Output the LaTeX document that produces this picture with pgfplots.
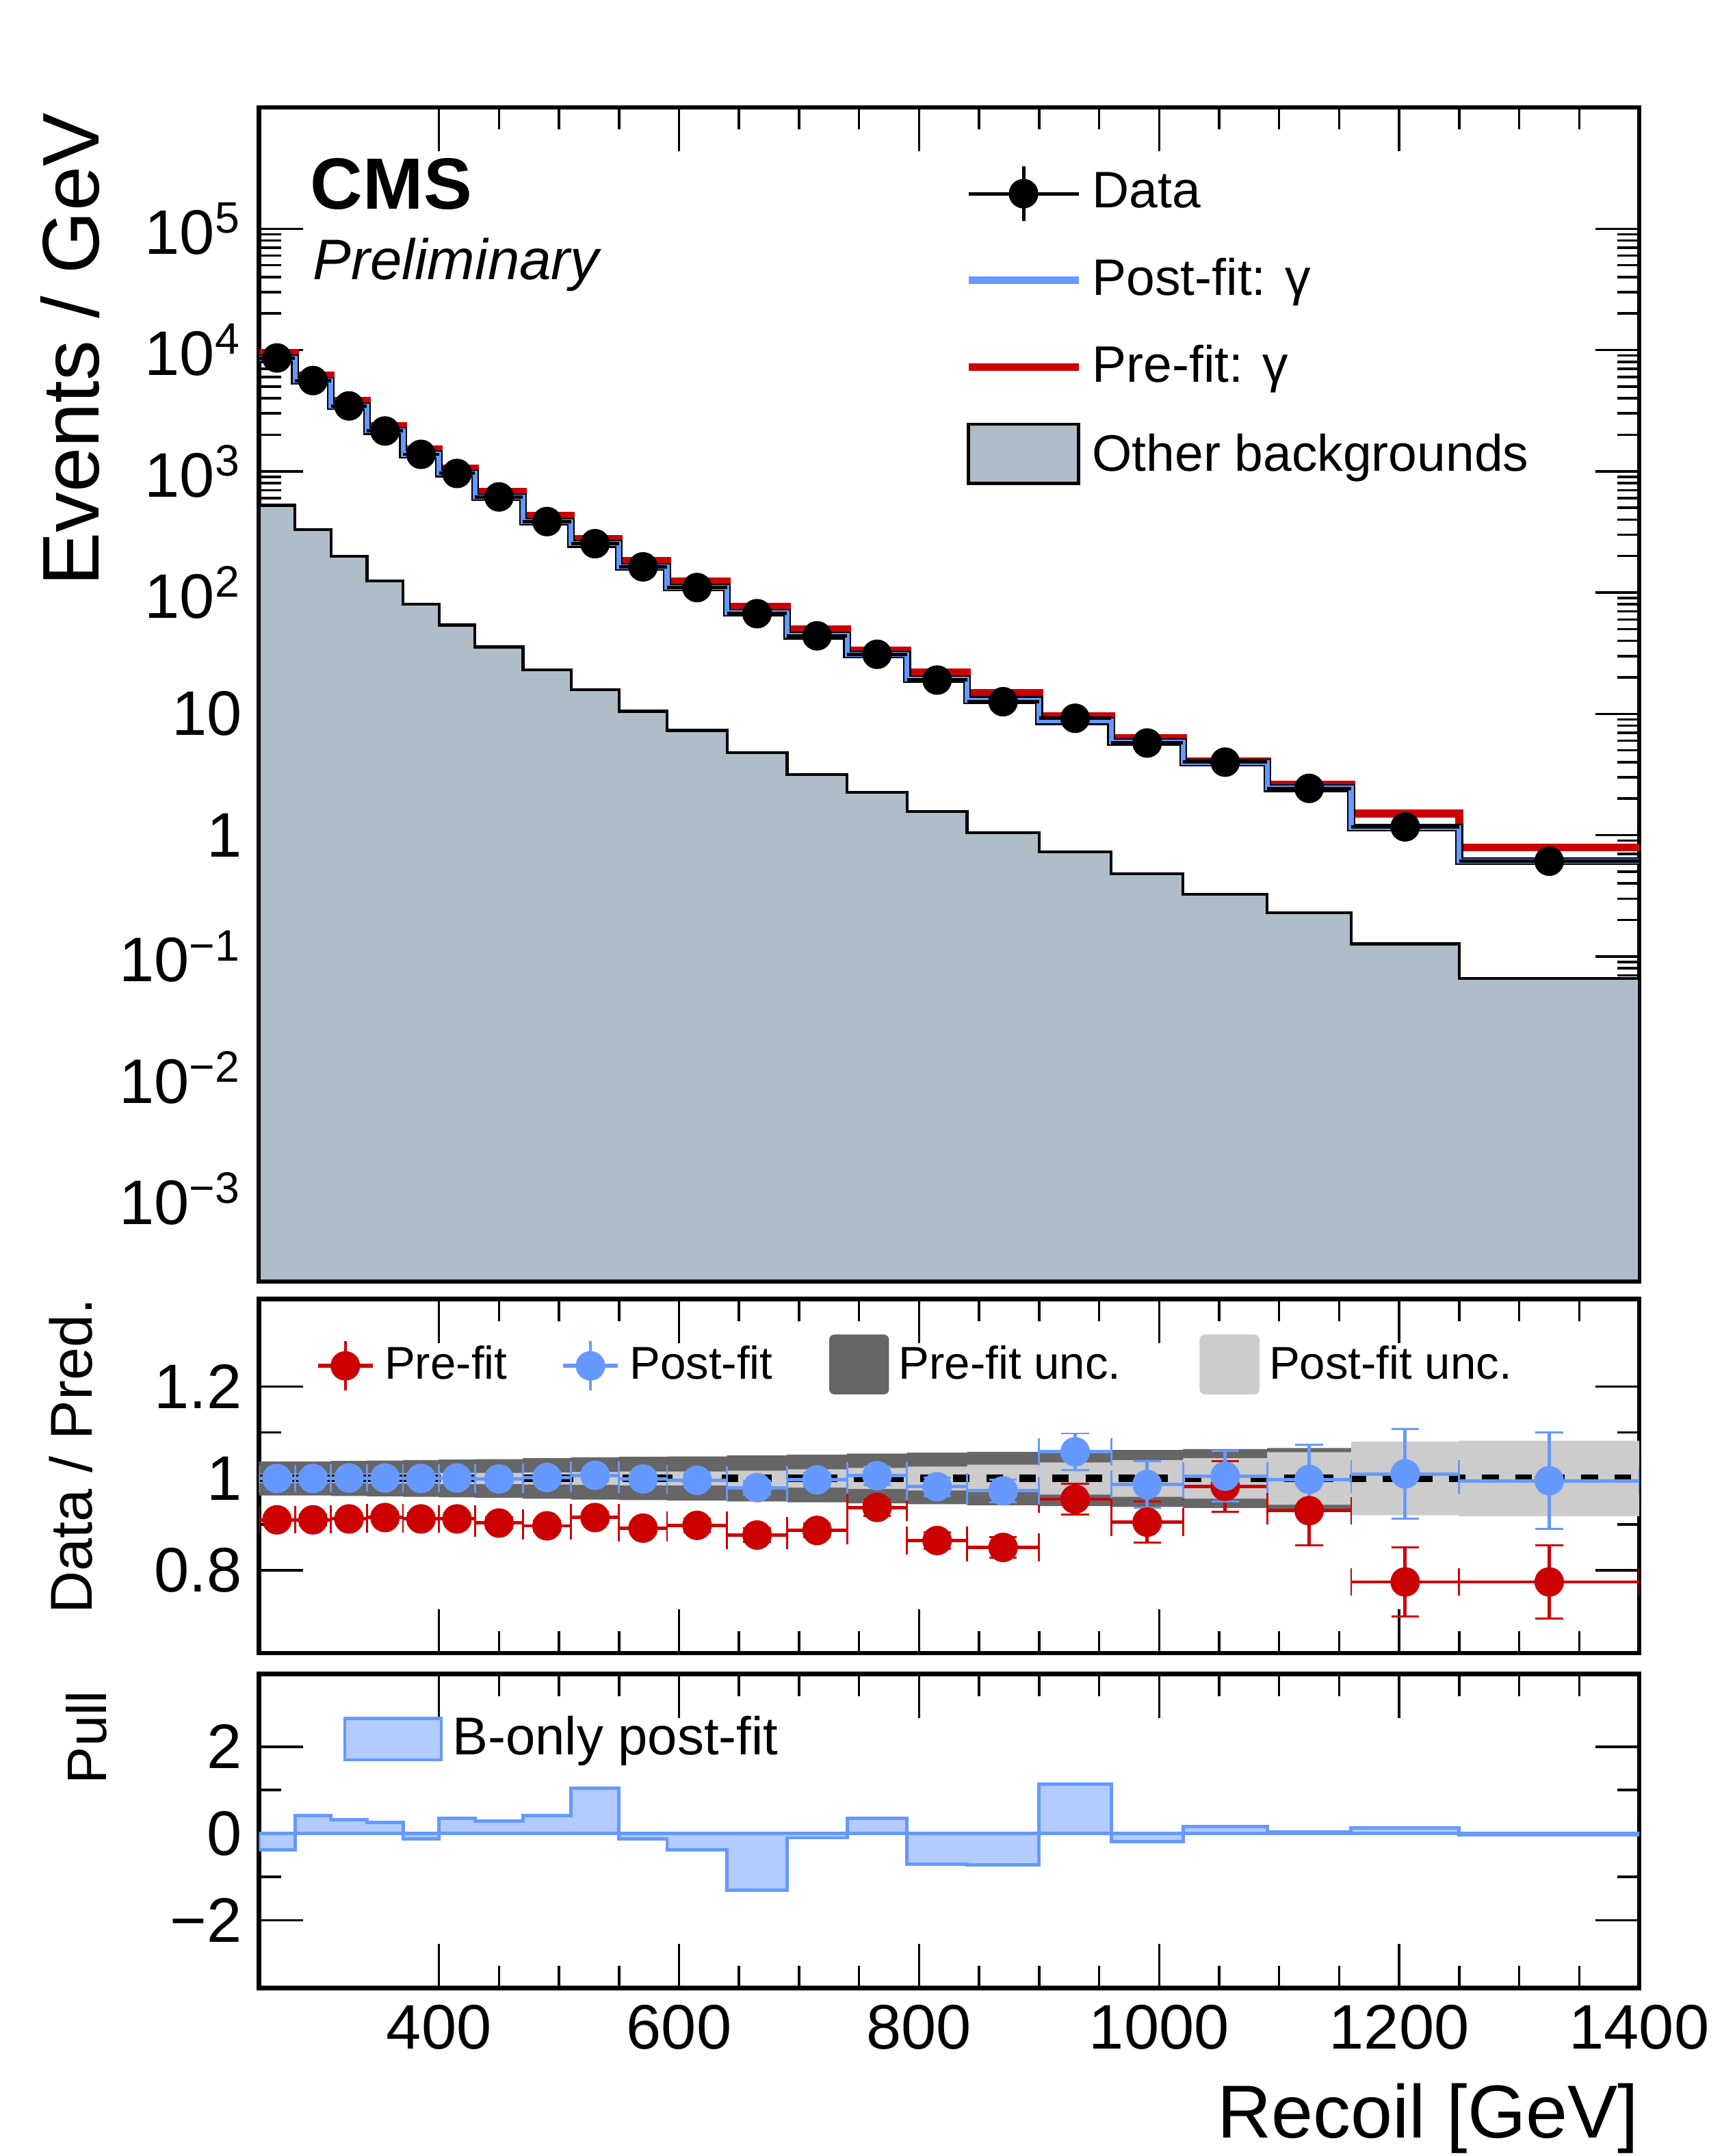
\documentclass[border=0pt]{standalone}
\usepackage{pgfplots}
\pgfplotsset{compat=1.18}
\usepackage{fontspec}
\setmainfont{Liberation Sans}
\definecolor{cred}{HTML}{CC0000}
\definecolor{cblue}{HTML}{6699FF}
\definecolor{cbkg}{HTML}{AEBDC7}
\definecolor{cdark}{HTML}{666666}
\definecolor{clight}{HTML}{CCCCCC}
\definecolor{cpull}{HTML}{B3CCFF}
\newcommand{\sq}[1]{\textsuperscript{#1}}
\begin{document}
\begin{tikzpicture}
\useasboundingbox (0mm,0mm) rectangle (125mm,-156.5mm);
\pgfplotsset{
  every axis/.append style={scale only axis, width=100.2mm, xmin=250, xmax=1400,
    tick align=inside, major tick length=3.2mm, minor tick length=1.6mm,
    xtick={400,600,800,1000,1200,1400}, minor x tick num=3,
    tick style={black, line width=0.5pt}, axis line style={line width=0.9pt},
    tick label style={font=\fontsize{13}{15}\selectfont}},
}
% ---------- main panel ----------
\begin{axis}[at={(18.8mm,-7.8mm)}, anchor=north west, height=85.2mm,
  ymode=log, ymin=2.1e-4, ymax=1e6,
  ytick={1e-3,1e-2,1e-1,1,10,100,1e3,1e4,1e5},
  yticklabels={10\sq{−3},10\sq{−2},10\sq{−1},1,10,10\sq{2},10\sq{3},10\sq{4},10\sq{5}},
  xticklabels={},
  ylabel={Events / GeV},
  ylabel style={font=\fontsize{16.6}{19}\selectfont, at={(axis description cs:-0.103,1.01)}, anchor=south east, rotate=0},
  legend style={at={(axis description cs:0.50,0.962)}, anchor=north west, draw=none, fill=none,
    font=\fontsize{10.6}{12}\selectfont, row sep=1.7mm, cells={anchor=west}},
  legend cell align=left,
]
\addlegendimage{legend image code/.code={
  \draw[black,line width=0.7pt] (0mm,0mm) -- (8mm,0mm); \draw[black,line width=0.7pt] (4mm,-2mm)--(4mm,2mm);
  \fill[black] (4mm,0mm) circle (1mm);}}
\addlegendentry{Data}
\addlegendimage{legend image code/.code={\draw[cblue,line width=1.6pt] (0mm,0mm)--(8mm,0mm);}}
\addlegendentry{Post-fit: γ}
\addlegendimage{legend image code/.code={\draw[cred,line width=1.6pt] (0mm,0mm)--(8mm,0mm);}}
\addlegendentry{Pre-fit: γ}
\addlegendimage{legend image code/.code={\draw[black,fill=cbkg,line width=0.7pt] (0mm,-2mm) rectangle (8mm,2.3mm);}}
\addlegendentry{Other backgrounds}
\addplot[const plot mark left, fill=cbkg, draw=black, line width=0.6pt, forget plot] table {
x y
250 525
280 330
310 200
340 125
370 80
400 54
430 35.6
470 23
510 15.9
550 10.5
590 7.3
640 4.8
690 3.15
740 2.25
790 1.56
840 1.05
900 0.73
960 0.48
1020 0.325
1090 0.23
1160 0.127
1250 0.066
1400 0.066
1400 2.1e-4
250 2.1e-4
} -- cycle;
\addplot[const plot mark left, cred, line width=1.6pt, forget plot] table {
x y
250 9450
280 6150
310 3800
340 2350
370 1516
400 1055
430 683
470 430
510 276
550 183
590 123
640 76.6
690 49.7
740 33.2
790 22
840 14.9
900 9.63
960 6.35
1020 4.08
1090 2.61
1160 1.51
1250 0.79
1400 0.79
};
\addplot[const plot mark left, black, line width=1.6pt, forget plot] table {
x y
250 8600
280 5600
310 3460
340 2150
370 1380
400 960
430 615
470 385
510 252
550 163
590 110.5
640 68.4
690 44.2
740 30.8
790 19.4
840 13.0
900 8.72
960 5.84
1020 3.98
1090 2.44
1160 1.16
1250 0.613
1400 0.613
};
\addplot[const plot mark left, cblue, line width=1.0pt, forget plot] table {
x y
250 8600
280 5600
310 3460
340 2150
370 1380
400 960
430 615
470 385
510 252
550 163
590 110.5
640 68.4
690 44.2
740 30.8
790 19.4
840 13.0
900 8.72
960 5.84
1020 3.98
1090 2.44
1160 1.16
1250 0.613
1400 0.613
};
\addplot[only marks, mark=*, mark size=1mm, black, forget plot,
  error bars/.cd, x dir=both, x explicit, error bar style={line width=0.7pt}, error mark=none] table[x error=ex] {
x y ex
265 8600 15
295 5600 15
325 3460 15
355 2150 15
385 1380 15
415 960 15
450 615 20
490 385 20
530 253 20
570 163 20
615 110 25
665 67 25
715 44 25
765 31 25
815 19 25
870 12.6 30
930 9.2 30
990 5.75 30
1055 4.0 35
1125 2.43 35
1205 1.17 45
1325 0.61 75
};
\node[anchor=south east, font=\fontsize{12.6}{14}\selectfont] at (rel axis cs:1,1) [yshift=0.6mm] {62 fb\sq{−1} (13.6 TeV)};
\node[anchor=west, font=\fontsize{15}{17}\selectfont\bfseries] at (axis description cs:0.025,0.935) {CMS};
\node[anchor=west, font=\fontsize{11.8}{14}\selectfont\itshape] at (axis description cs:0.027,0.866) {Preliminary};
\end{axis}
% ---------- ratio panel ----------
\begin{axis}[at={(18.8mm,-94.3mm)}, anchor=north west, height=25.7mm,
  ymin=0.62, ymax=1.39, ytick={0.8,1,1.2}, yticklabels={0.8,1,1.2}, minor y tick num=1,
  xticklabels={},
  ylabel={Data / Pred.},
  ylabel style={font=\fontsize{12.2}{14}\selectfont, at={(axis description cs:-0.108,1.05)}, anchor=south east, rotate=0},
  legend columns=4,
  legend style={at={(axis description cs:0.03,0.93)}, anchor=north west, draw=none, fill=none,
    font=\fontsize{9.5}{11}\selectfont,
    /tikz/column 2/.style={column sep=3.2mm},
    /tikz/column 4/.style={column sep=3.4mm},
    /tikz/column 6/.style={column sep=5mm}},
]
\addlegendimage{legend image code/.code={
  \draw[cred,line width=0.8pt] (0mm,0mm)--(4mm,0mm); \draw[cred,line width=0.6pt] (2mm,-1.8mm)--(2mm,1.8mm);
  \fill[cred] (2mm,0mm) circle (1mm);}}
\addlegendentry{Pre-fit}
\addlegendimage{legend image code/.code={
  \draw[cblue,line width=0.8pt] (0mm,0mm)--(4mm,0mm); \draw[cblue,line width=0.6pt] (2mm,-1.8mm)--(2mm,1.8mm);
  \fill[cblue] (2mm,0mm) circle (1mm);}}
\addlegendentry{Post-fit}
\addlegendimage{legend image code/.code={\fill[cdark,rounded corners=0.3mm] (0mm,-2mm) rectangle (4.2mm,2.2mm);}}
\addlegendentry{Pre-fit unc.}
\addlegendimage{legend image code/.code={\fill[clight,rounded corners=0.3mm] (0mm,-2mm) rectangle (4.2mm,2.2mm);}}
\addlegendentry{Post-fit unc.}
\addplot[fill=cdark, draw=none, forget plot] coordinates {
(250,1.037)(280,1.037)(280,1.037)(310,1.037)(310,1.038)(340,1.038)(340,1.039)(370,1.039)(370,1.040)(400,1.040)(400,1.041)(430,1.041)(430,1.042)(470,1.042)(470,1.044)(510,1.044)(510,1.046)(550,1.046)(550,1.047)(590,1.047)(590,1.048)(640,1.048)(640,1.050)(690,1.050)(690,1.052)(740,1.052)(740,1.054)(790,1.054)(790,1.056)(840,1.056)(840,1.058)(900,1.058)(900,1.060)(960,1.060)(960,1.062)(1020,1.062)(1020,1.064)(1090,1.064)(1090,1.066)(1160,1.066)
(1160,0.934)(1090,0.934)(1090,0.936)(1020,0.936)(1020,0.938)(960,0.938)(960,0.940)(900,0.940)(900,0.942)(840,0.942)(840,0.944)(790,0.944)(790,0.946)(740,0.946)(740,0.948)(690,0.948)(690,0.950)(640,0.950)(640,0.952)(590,0.952)(590,0.953)(550,0.953)(550,0.954)(510,0.954)(510,0.956)(470,0.956)(470,0.958)(430,0.958)(430,0.959)(400,0.959)(400,0.960)(370,0.960)(370,0.961)(340,0.961)(340,0.962)(310,0.962)(310,0.963)(250,0.963)
} -- cycle;
\addplot[fill=clight, draw=none, forget plot] coordinates {
(250,1.010)(340,1.010)(340,1.011)(400,1.011)(400,1.012)(470,1.012)(470,1.013)(510,1.013)(510,1.014)(550,1.014)(550,1.015)(640,1.015)(640,1.017)(690,1.017)(690,1.020)(740,1.020)(740,1.023)(790,1.023)(790,1.026)(840,1.026)(840,1.030)(900,1.030)(900,1.035)(960,1.035)(960,1.040)(1020,1.040)(1020,1.044)(1090,1.044)(1090,1.057)(1160,1.057)(1160,1.080)(1250,1.080)(1250,1.082)(1400,1.082)
(1400,0.918)(1250,0.918)(1250,0.920)(1160,0.920)(1160,0.943)(1090,0.943)(1090,0.956)(1020,0.956)(1020,0.960)(960,0.960)(960,0.965)(900,0.965)(900,0.970)(840,0.970)(840,0.974)(790,0.974)(790,0.977)(740,0.977)(740,0.980)(690,0.980)(690,0.983)(640,0.983)(640,0.985)(550,0.985)(550,0.986)(510,0.986)(510,0.987)(470,0.987)(470,0.988)(400,0.988)(400,0.989)(340,0.989)(340,0.990)(250,0.990)
} -- cycle;
\addplot[black, dash pattern=on 1.2mm off 1.2mm, line width=1.5pt, forget plot] coordinates {(250,1) (1400,1)};
\addplot[only marks, mark=*, mark size=1mm, cred, forget plot,
  error bars/.cd, x dir=both, x explicit, y dir=both, y explicit, error bar style={line width=0.7pt}] table[x error=ex, y error=ey] {
x y ex ey
265 0.910 15 0.012
295 0.910 15 0.012
325 0.912 15 0.012
355 0.915 15 0.012
385 0.912 15 0.012
415 0.912 15 0.012
450 0.903 20 0.012
490 0.897 20 0.012
530 0.915 20 0.012
570 0.892 20 0.012
615 0.898 25 0.015
665 0.877 25 0.015
715 0.887 25 0.015
765 0.937 25 0.018
815 0.865 25 0.018
870 0.850 30 0.022
930 0.955 30 0.033
990 0.905 30 0.045
1055 0.983 35 0.055
1125 0.930 35 0.075
1205 0.775 45 0.075
1325 0.775 75 0.08
};
\addplot[only marks, mark=*, mark size=1mm, cblue, forget plot,
  error bars/.cd, x dir=both, x explicit, y dir=both, y explicit, error bar style={line width=0.7pt}] table[x error=ex, y error=ey] {
x y ex ey
265 1.000 15 0.012
295 1.000 15 0.012
325 1.001 15 0.012
355 1.001 15 0.012
385 1.000 15 0.012
415 1.001 15 0.012
450 0.999 20 0.012
490 1.002 20 0.012
530 1.007 20 0.012
570 0.999 20 0.012
615 0.996 25 0.015
665 0.980 25 0.015
715 0.997 25 0.015
765 1.006 25 0.02
815 0.982 25 0.02
870 0.973 30 0.025
930 1.058 30 0.04
990 0.987 30 0.05
1055 1.005 35 0.055
1125 0.998 35 0.075
1205 1.010 45 0.098
1325 0.995 75 0.105
};
\end{axis}
% ---------- pull panel ----------
\begin{axis}[at={(18.8mm,-121.5mm)}, anchor=north west, height=22.8mm,
  ymin=-3.56, ymax=3.68, ytick={-2,0,2}, yticklabels={−2,0,2}, minor y tick num=1,
  xticklabels={400,600,800,1000,1200,1400},
  ylabel={Pull},
  ylabel style={font=\fontsize{11.5}{13}\selectfont, at={(axis description cs:-0.098,1.0)}, anchor=south east, rotate=0},
  xlabel={Recoil [GeV]},
  xlabel style={font=\fontsize{15.5}{18}\selectfont, at={(axis description cs:1,-0.25)}, anchor=north east, xshift=1.2mm},
  legend style={at={(axis description cs:0.05,0.93)}, anchor=north west, draw=none, fill=none,
    font=\fontsize{11}{13}\selectfont},
]
\addlegendimage{legend image code/.code={\draw[cblue,fill=cpull,line width=0.6pt] (0mm,-1.5mm) rectangle (7mm,1.5mm);}}
\addlegendentry{B-only post-fit}
\addplot[const plot mark left, fill=cpull, draw=cblue, line width=0.7pt, forget plot] table {
x y
250 -0.38
280 0.41
310 0.32
340 0.25
370 -0.13
400 0.35
430 0.29
470 0.41
510 1.05
550 -0.13
590 -0.38
640 -1.30
690 -0.10
740 0.35
790 -0.70
840 -0.73
900 1.14
960 -0.19
1020 0.16
1090 0.03
1160 0.13
1250 -0.03
1400 -0.03
} \closedcycle;
\end{axis}
\end{tikzpicture}
\end{document}
